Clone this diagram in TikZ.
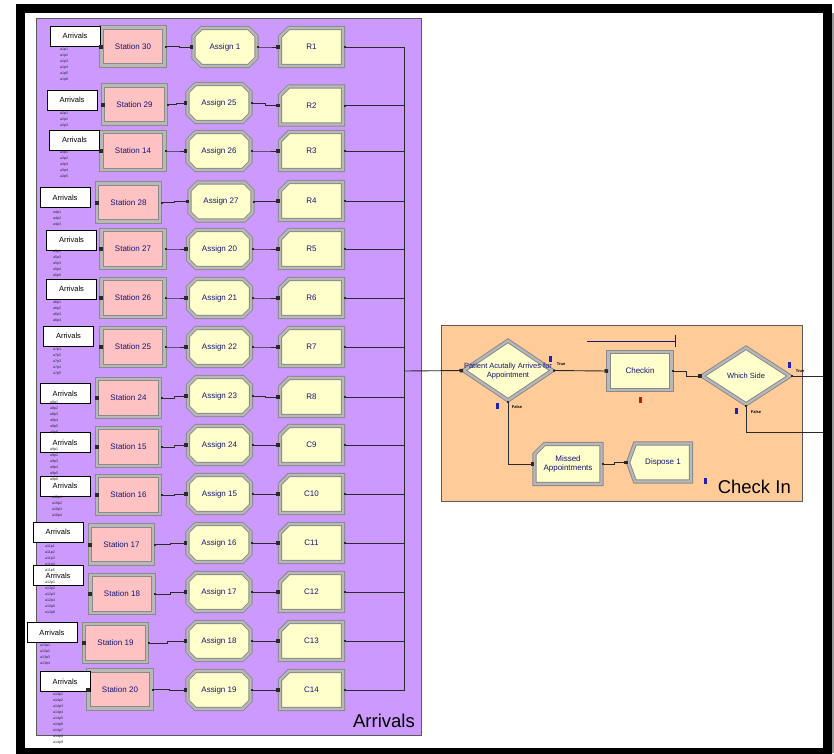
\documentclass[tikz,border=0pt]{standalone}
\usepackage{fontspec}
\setmainfont{Liberation Sans}
\usetikzlibrary{calc, arrows.meta, shapes.geometric, shapes.misc, shapes.symbols}
\definecolor{areaPurple}{HTML}{CC99FF}
\definecolor{areaPeach}{HTML}{FFCC99}
\definecolor{areaEdge}{HTML}{5A5A5A}
\definecolor{stationPink}{HTML}{FFC2C2}
\definecolor{modYellow}{HTML}{FFFFCC}
\definecolor{bevelGrey}{HTML}{8A8A8A}
\definecolor{bevelLight}{HTML}{B8B8B8}
\definecolor{modNavy}{HTML}{14147A}
\definecolor{wireGrey}{HTML}{2A2A2A}
\definecolor{counterBlue}{HTML}{2020B4}
\definecolor{counterRed}{HTML}{B42020}
\tikzset{
  module/.style  = {draw=bevelGrey, double=bevelLight, double distance=2.2pt, line width=1pt,
                    fill=modYellow, minimum width=63, minimum height=38, inner sep=1pt,
                    align=center, text=modNavy, font=\fontsize{8}{9.5}\selectfont},
  station/.style = {module, rectangle, fill=stationPink},
  process/.style = {module, rectangle},
  assign/.style  = {module, chamfered rectangle, chamfered rectangle xsep=4pt,
                    chamfered rectangle ysep=4pt},
  record/.style  = {module, chamfered rectangle, chamfered rectangle corners=north west,
                    chamfered rectangle xsep=5pt, chamfered rectangle ysep=5pt},
  decide/.style  = {module, diamond, inner sep=0pt, minimum width=89, minimum height=60},
  dispose/.style = {module, signal, signal to=west, signal pointer angle=140},
  arrbox/.style  = {draw=black, line width=0.8pt, fill=white, minimum width=50, minimum height=20,
                    inner sep=0pt, font=\fontsize{7.5}{9}\selectfont},
  area/.style    = {draw=areaEdge, line width=0.8pt},
  areatitle/.style = {inner sep=0pt, font=\fontsize{18.5}{20}\selectfont},
  modtext/.style = {inner sep=0pt, align=center, text=modNavy, font=\fontsize{7.5}{9.5}\selectfont},
  flag/.style    = {inner sep=0pt, font=\fontsize{4}{4}\selectfont\bfseries},
  tag/.style     = {inner sep=0pt, text=black!85, font=\fontsize{3.6}{4}\selectfont},
  wire/.style    = {draw=wireGrey, line width=0.9pt,
                    {Square[length=2pt,width=2pt]}-{Square[length=3.5pt,width=3.5pt]}},
  feed/.style    = {draw=wireGrey, line width=0.9pt, -{Square[length=3.5pt,width=3.5pt]}},
  outline/.style = {draw=wireGrey, line width=0.9pt, {Square[length=2pt,width=2pt]}-},
  jog/.style     = {to path={-| ($(\tikztostart)!.5!(\tikztotarget)$) |- (\tikztotarget) \tikztonodes}}
}

\begin{document}
\begin{tikzpicture}[x=1pt, y=-1pt]
  \useasboundingbox (0,0) rectangle (834,753);

  % --- submodel areas
  \draw[area, fill=areaPurple] (36,18) rectangle (421,735);
  \draw[area, fill=areaPeach] (441,325) rectangle (802,501);
  \node[areatitle, anchor=base east] (arrTitle) at (415,727) {Arrivals};
  \node[areatitle, anchor=base east] (chkTitle) at (791,493) {Check In};

  \coordinate (bus) at (404,371);
  \coordinate (outT) at (828,376);
  \coordinate (outF) at (828,432);

  % --- one row per arrival stream
  \foreach \n/\ax/\ay/\sx/\sy/\sn/\asx/\asy/\an/\ry/\rl in {
      1/75/36/133/46.5/30/225/47/1/47/R1,
      2/72/100/134.5/104.5/29/219/103/25/105.5/R2,
      3/74.5/140/133/151/14/219/151/26/151/R3,
      4/65/197.5/128.5/202.5/28/221/201.5/27/201/R4,
      5/71.5/240/133/249/27/219.5/249/20/249/R5,
      6/71.5/289/133/298/26/219.5/298/21/298/R6,
      7/68.5/336/133/347/25/219.5/347/22/347/R7,
      8/65/393.5/128.5/398/24/219.5/396/23/397/R8,
      9/65/442.5/128.5/447/15/219.5/445/24/445/C9,
      10/65/486/128.5/495/16/219.5/494/15/494/C10,
      11/58/532/121.5/544.5/17/219/543/16/543/C11,
      12/58/575.5/122/594/18/219/592/17/592/C12,
      13/52/632.5/115.5/643/19/219/641/18/641/C13,
      14/65/681.5/120/689.5/20/219/690/19/690/C14}
  {
    \node[station] (st\n) at (\sx,\sy) {Station \sn};
    \node[assign] (as\n) at (\asx,\asy) {Assign \an};
    \node[record] (rec\n) at (311.5,\ry) {\rl};
    \node[arrbox] (arr\n) at (\ax,\ay) {Arrivals};
    \fill[wireGrey] ($(st\n.west)+(-2,-2)$) rectangle ++(4,4);
    \draw[wire, jog] (st\n.east) to (as\n.west);
    \draw[wire, jog] (as\n.east) to (rec\n.west);
    \draw[outline] (rec\n.east) -| (bus);
  }

  % --- attribute tags under the arrival boxes
  \foreach \x/\y/\m [count=\rw] in {60/50/6, 60/114/3, 60/153/5, 53/213/3, 53/252/5, 53/303/4,
      53/350/5, 50/403/6, 50/450/6, 52/498/4, 45/547/5, 45/583/6, 40/646/4, 53/695/9}
    \foreach \k in {1,...,\m}
      \node[tag, anchor=west] (tag\rw-\k) at (\x,\y+6*\k-6) {a\rw p\k};

  % --- check in
  \node[decide] (dec1) at (508,370.5) {};
  \node[modtext] (dec1txt) at (508,371) {Patient Acutally Arrives for\\Appointment};
  \node[process] (chk) at (640,371) {Checkin};
  \node[decide, minimum width=88, minimum height=57] (side) at (746,376) {};
  \node[modtext] (sidetxt) at (746,376) {Which Side};
  \node[record, minimum width=67, minimum height=40] (miss) at (568,464) {Missed\\Appointments};
  \node[dispose] (disp) at (663,462.5) {Dispose 1};

  \draw[feed] (bus) -- (dec1.west);
  \draw[wire] (dec1.east) -- (chk.west);
  \draw[wire, jog] (chk.east) to (side.west);
  \draw[wire] (dec1.south) |- (miss.west);
  \draw[wire, jog] (miss.east) to (disp.west);
  \draw[outline] (side.east) -- (outT);
  \draw[outline] (side.south) |- (outF);

  \node[flag] (t1) at (561,364) {True};
  \node[flag] (f1) at (517,407) {False};
  \node[flag] (t2) at (800,371) {True};
  \node[flag] (f2) at (756,412) {False};

  % counters and queue
  \fill[counterBlue] (549,356) rectangle (551.5,362);
  \fill[counterBlue] (496,403) rectangle (498.5,409);
  \fill[counterBlue] (788,362) rectangle (790.5,368);
  \fill[counterBlue] (735,408) rectangle (737.5,414);
  \fill[counterBlue] (704,478) rectangle (706.5,484);
  \fill[counterRed] (639,397) rectangle (641.5,403);
  \draw[counterBlue!70!black, line width=0.9pt] (587,341) -- (675,341) (675,335) -- (675,347);

  % --- window frame
  \draw[black, line width=9pt] (20,8.5) rectangle (827.5,752);
  \draw[black!40, line width=1.5pt] (833,13) -- (833,753);
\end{tikzpicture}
\end{document}
